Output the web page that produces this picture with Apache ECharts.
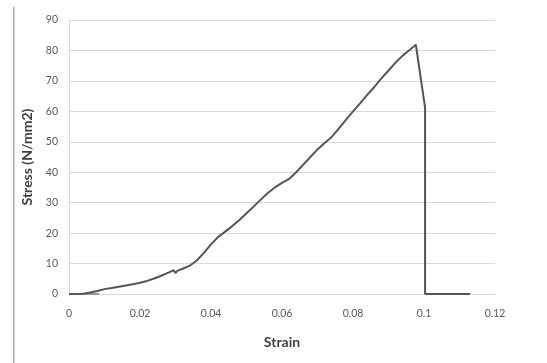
<!DOCTYPE html>
<html>
<head>
<meta charset="utf-8">
<script src="https://cdn.jsdelivr.net/npm/echarts@6/dist/echarts.min.js"></script>
<style>html,body{margin:0;padding:0;background:#fff}#c{width:547px;height:363px}</style>
</head>
<body>
<div id="c"></div>
<script>
var strain = [0,0.004,0.006,0.008,0.010,0.012,0.014,0.016,0.018,0.020,0.022,0.024,0.026,0.028,0.0295,0.0300,0.0305,0.032,0.034,0.036,0.038,0.040,0.042,0.044,0.046,0.048,0.050,0.052,0.054,0.056,0.058,0.060,0.062,0.064,0.066,0.068,0.070,0.072,0.074,0.076,0.078,0.080,0.082,0.084,0.086,0.088,0.090,0.092,0.094,0.096,0.0977,0.1003,0.1003,0.1130];
var stress = [0,0.1,0.5,1.0,1.6,2.0,2.4,2.8,3.2,3.7,4.3,5.1,6.0,7.0,7.8,6.9,7.6,8.3,9.3,11.0,13.5,16.3,18.7,20.5,22.3,24.3,26.5,28.7,31.0,33.2,35.0,36.5,37.8,40.0,42.5,45.0,47.5,49.6,51.6,54.3,57.2,60.0,62.6,65.4,68.0,70.8,73.4,76.0,78.3,80.2,81.9,61.2,0,0];
var toeStrain = [0,0.0085];
var toeStress = [0,0];
var xTicks = ['0','0.02','0.04','0.06','0.08','0.1','0.12'];

var data = strain.map(function(s,i){return [s,stress[i]];});
var toe = toeStrain.map(function(s,i){return [s,toeStress[i]];});

var chart = echarts.init(document.getElementById('c'));
chart.setOption({
  animation:false,
  grid:{left:69,right:52,top:20,bottom:69},
  xAxis:{
    type:'value',min:0,max:0.12,interval:0.02,
    name:'Strain',nameLocation:'middle',nameGap:41,
    nameTextStyle:{fontFamily:'Lato',fontWeight:'bold',fontSize:14,color:'#404040'},
    axisLine:{show:false},axisTick:{show:false},
    splitLine:{show:false},
    axisLabel:{fontFamily:'Lato',fontSize:10.5,color:'#595959',margin:14,
      formatter:function(v){var i=Math.round(v/0.02);return xTicks[i];}}
  },
  yAxis:{
    type:'value',min:0,max:90,interval:10,
    name:'Stress (N/mm2)',nameLocation:'middle',nameGap:29,
    nameTextStyle:{fontFamily:'Lato',fontWeight:'bold',fontSize:14,color:'#404040'},
    axisLine:{show:true,lineStyle:{color:'#d9d9d9',width:1}},axisTick:{show:false},
    splitLine:{show:true,lineStyle:{color:'#d9d9d9',width:1}},
    axisLabel:{fontFamily:'Lato',fontSize:10.5,color:'#595959',margin:11}
  },
  graphic:[{type:'rect',shape:{x:13,y:7,width:1.5,height:356},style:{fill:'#aaa'}}],
  series:[
    {type:'line',data:toe,showSymbol:false,lineStyle:{color:'#999',width:2},z:1},
    {type:'line',data:data,showSymbol:false,lineStyle:{color:'#555',width:2},z:2}
  ]
});
</script>
</body>
</html>
